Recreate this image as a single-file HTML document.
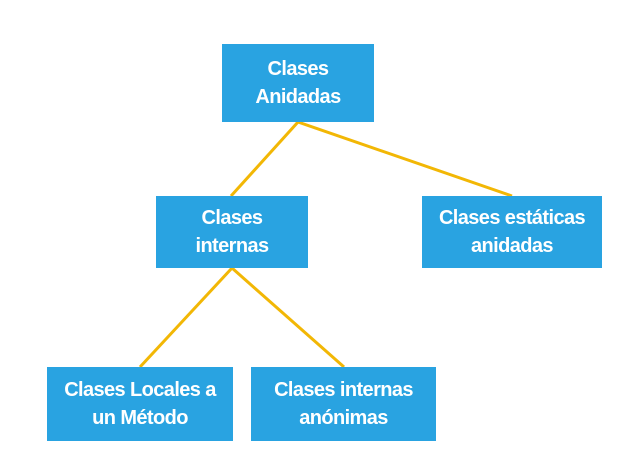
<!DOCTYPE html>
<html><head><style>
body{margin:0;width:644px;height:469px;background:#fff;position:relative;overflow:hidden;font-family:"Liberation Sans",sans-serif}
.b{position:absolute;background:#29a3e1;color:#fff;font-weight:bold;font-size:20px;line-height:28px;display:flex;align-items:center;justify-content:center;text-align:center;letter-spacing:-0.6px}
svg{position:absolute;left:0;top:0}
</style></head><body>
<svg width="644" height="469"><g stroke="#f2b705" stroke-width="3" fill="none">
<line x1="298" y1="122" x2="231" y2="196"/>
<line x1="298" y1="122" x2="512" y2="196"/>
<line x1="232" y1="268" x2="140" y2="367"/>
<line x1="232" y1="268" x2="344" y2="367"/>
</g></svg>
<div class="b" style="left:222px;top:44px;width:152px;height:78px">Clases<br>Anidadas</div>
<div class="b" style="left:156px;top:196px;width:152px;height:72px">Clases<br>internas</div>
<div class="b" style="left:422px;top:196px;width:180px;height:72px">Clases estáticas<br>anidadas</div>
<div class="b" style="left:47px;top:367px;width:186px;height:74px">Clases Locales a<br>un Método</div>
<div class="b" style="left:251px;top:367px;width:185px;height:74px">Clases internas<br>anónimas</div>
</body></html>
